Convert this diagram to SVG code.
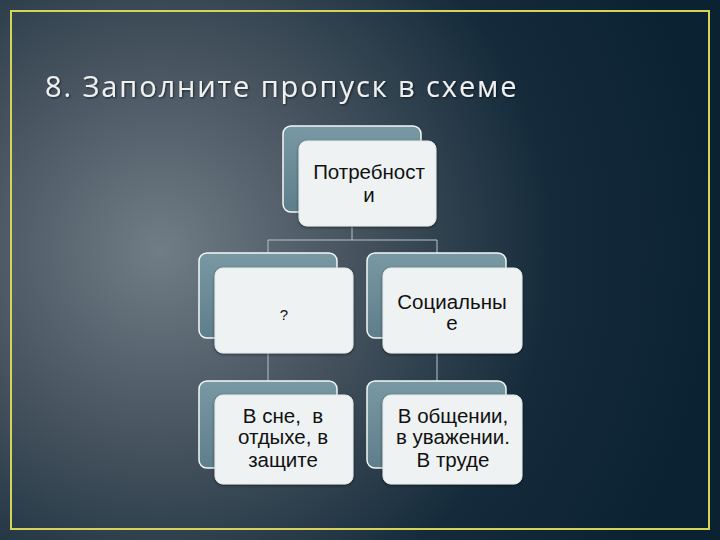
<svg xmlns="http://www.w3.org/2000/svg" width="720" height="540" viewBox="0 0 720 540">
<defs>
<radialGradient id="bg" cx="160" cy="250" r="560" gradientUnits="userSpaceOnUse">
<stop offset="0" stop-color="#707c86"/>
<stop offset="0.35" stop-color="#46535e"/>
<stop offset="0.7" stop-color="#152b3b"/>
<stop offset="1" stop-color="#0b2232"/>
</radialGradient>
<linearGradient id="back" x1="0" y1="0" x2="0" y2="1">
<stop offset="0" stop-color="#7898a3"/>
<stop offset="1" stop-color="#5f7e8b"/>
</linearGradient>
<filter id="sh" x="-10%" y="-10%" width="120%" height="120%">
<feGaussianBlur in="SourceAlpha" stdDeviation="1.5"/>
<feOffset dx="0" dy="1"/>
<feComponentTransfer><feFuncA type="linear" slope="0.5"/></feComponentTransfer>
<feMerge><feMergeNode/><feMergeNode in="SourceGraphic"/></feMerge>
</filter>
<filter id="tsh" x="-5%" y="-20%" width="110%" height="140%">
<feGaussianBlur in="SourceAlpha" stdDeviation="1"/>
<feOffset dx="1" dy="1"/>
<feComponentTransfer><feFuncA type="linear" slope="0.6"/></feComponentTransfer>
<feMerge><feMergeNode/><feMergeNode in="SourceGraphic"/></feMerge>
</filter>
</defs>
<style>
.bk{fill:url(#back);stroke:#f4f8f8;stroke-width:1.5}
.fr{fill:#eef2f2;stroke:#e2e8e8;stroke-width:1;filter:url(#sh)}
.t{font-family:"Liberation Sans",Arial,sans-serif;font-size:20.5px;fill:#111;text-anchor:middle}
.c{fill:none;stroke:#b8c4ca;stroke-width:1}
</style>
<rect x="0" y="0" width="720" height="540" fill="url(#bg)"/>
<rect x="11" y="11" width="698" height="518" fill="none" stroke="#d6d25a" stroke-width="2"/>
<text x="45" y="97" font-family="'Open Sans','Noto Sans',sans-serif" font-size="29" letter-spacing="1.9" fill="#eef0f2" filter="url(#tsh)">8. Заполните пропуск в схеме</text>
<g id="connectors">
<path class="c" d="M352 227V240M268 240H437M268 240V253M437 240V253M268 353V381M437 353V381"/>
</g>
<g id="n1">
<rect class="bk" x="283" y="126" width="138" height="86" rx="8"/>
<rect class="fr" x="299" y="141" width="137" height="85" rx="8"/>
<text class="t" x="369" y="179">Потребност</text>
<text class="t" x="369" y="202">и</text>
</g>
<g id="n2">
<rect class="bk" x="199" y="253" width="138" height="85" rx="8"/>
<rect class="fr" x="215" y="268" width="138" height="85" rx="8"/>
<text class="t" x="284" y="320" style="font-size:15px">?</text>
</g>
<g id="n3">
<rect class="bk" x="367" y="253" width="139" height="85" rx="8"/>
<rect class="fr" x="383" y="268" width="139" height="85" rx="8"/>
<text class="t" x="452" y="309">Социальны</text>
<text class="t" x="452" y="330">е</text>
</g>
<g id="n4">
<rect class="bk" x="199" y="381" width="138" height="87" rx="8"/>
<rect class="fr" x="215" y="395" width="138" height="89" rx="8"/>
<text class="t" x="283" y="423" xml:space="preserve">В сне,  в</text>
<text class="t" x="283" y="444">отдыхе, в</text>
<text class="t" x="283" y="467">защите</text>
</g>
<g id="n5">
<rect class="bk" x="367" y="381" width="139" height="87" rx="8"/>
<rect class="fr" x="383" y="395" width="139" height="89" rx="8"/>
<text class="t" x="453" y="423">В общении,</text>
<text class="t" x="453" y="444">в уважении.</text>
<text class="t" x="453" y="467">В труде</text>
</g>
</svg>
